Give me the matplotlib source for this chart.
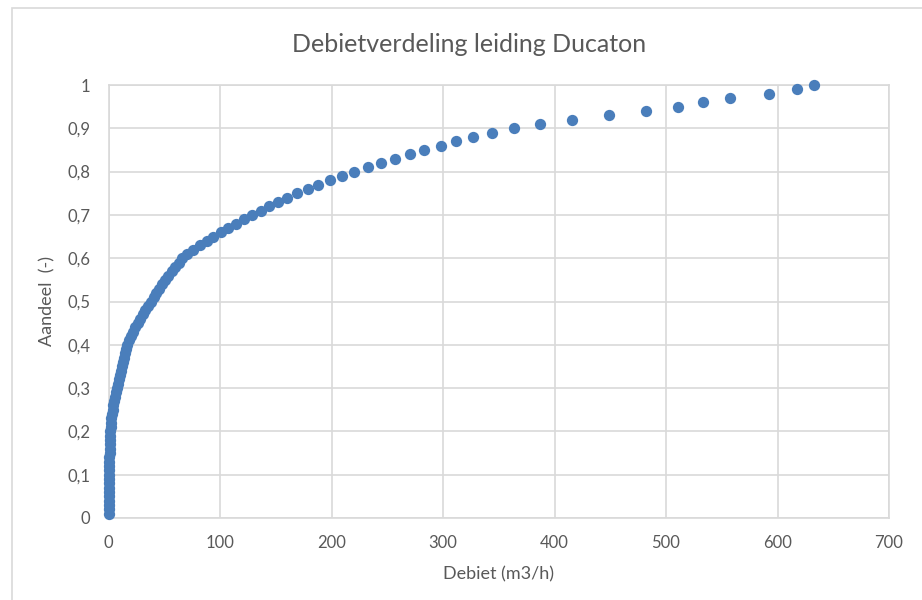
import numpy as np
import matplotlib
matplotlib.use("Agg")
import matplotlib.pyplot as plt
from matplotlib.patches import Rectangle

# aandeel (fraction) 0.01 .. 1.00
aandeel = [round(0.01 * i, 2) for i in range(1, 101)]

# debiet (m3/h) per point
debiet = [
    0.0, 0.0, 0.1, 0.1, 0.2, 0.2, 0.3, 0.3, 0.4, 0.5,
    0.5, 0.6, 0.7, 0.8, 0.9, 1.0, 1.1, 1.2, 1.3, 1.5,
    1.8, 2.1, 2.5, 3.0, 3.6, 4.3, 5.0, 5.9, 6.9, 8.0,
    8.7, 9.4, 10.1, 10.9, 11.8, 12.7, 13.7, 14.7, 15.8, 17.0,
    18.8, 20.5, 22.3, 24.2, 26.5, 28.5, 30.6, 32.8, 35.2, 37.8,
    40.4, 43.0, 45.6, 48.3, 51.0, 53.8, 56.7, 59.7, 62.8, 66.2,
    70.7, 76.0, 82.0, 88.0, 94.0, 100.6, 106.9, 114.3, 121.5, 128.4,
    136.5, 144.2, 151.7, 160.4, 169.3, 179.2, 188.2, 198.5, 209.7, 220.2,
    232.5, 244.7, 257.0, 270.1, 283.0, 298.0, 311.7, 326.6, 344.0, 363.4,
    386.7, 415.7, 448.6, 482.0, 511.0, 533.5, 557.0, 592.0, 617.2, 632.7,
]

x_ticks = [0, 100, 200, 300, 400, 500, 600, 700]
y_ticks = [0, 0.1, 0.2, 0.3, 0.4, 0.5, 0.6, 0.7, 0.8, 0.9, 1.0]
y_labels = ["0", "0,1", "0,2", "0,3", "0,4", "0,5", "0,6", "0,7", "0,8", "0,9", "1"]

plt.rcParams["font.family"] = ["Lato", "DejaVu Sans"]
txt = "#595959"
grid = "#d9d9d9"

W, H = 922, 600
fig = plt.figure(figsize=(W / 100, H / 100), dpi=100)

# chart area border (cut off at right/bottom like the screenshot)
fig.patches.append(Rectangle((12 / W, -0.1), 1.2, (H - 8) / H + 0.1,
                             transform=fig.transFigure, fill=False,
                             edgecolor=grid, linewidth=1.2))

left, right, top, bottom = 108.5, 889, 85, 518
ax = fig.add_axes([left / W, 1 - bottom / H, (right - left) / W, (bottom - top) / H])

ax.scatter(debiet, aandeel, s=66, color="#4a7ebb", zorder=3, linewidths=0, clip_on=False)

ax.set_xlim(0, 700)
ax.set_ylim(0, 1)
ax.set_xticks(x_ticks)
ax.set_yticks(y_ticks)
ax.set_yticklabels(y_labels)
ax.grid(True, color=grid, linewidth=1.2)
ax.set_axisbelow(True)
for s in ax.spines.values():
    s.set_color(grid)
    s.set_linewidth(1.2)
ax.tick_params(length=0, labelsize=12, colors=txt, pad=12)
ax.tick_params(axis="y", pad=13)

ax.set_xlabel("Debiet (m3/h)", fontsize=13, color=txt, labelpad=11)
ax.set_ylabel("Aandeel  (-)", fontsize=13, color=txt, labelpad=9)

fig.text(469 / W, 1 - 45 / H, "Debietverdeling leiding Ducaton",
         ha="center", va="center", fontsize=18, color=txt)

fig.savefig("out.png", dpi=100)
